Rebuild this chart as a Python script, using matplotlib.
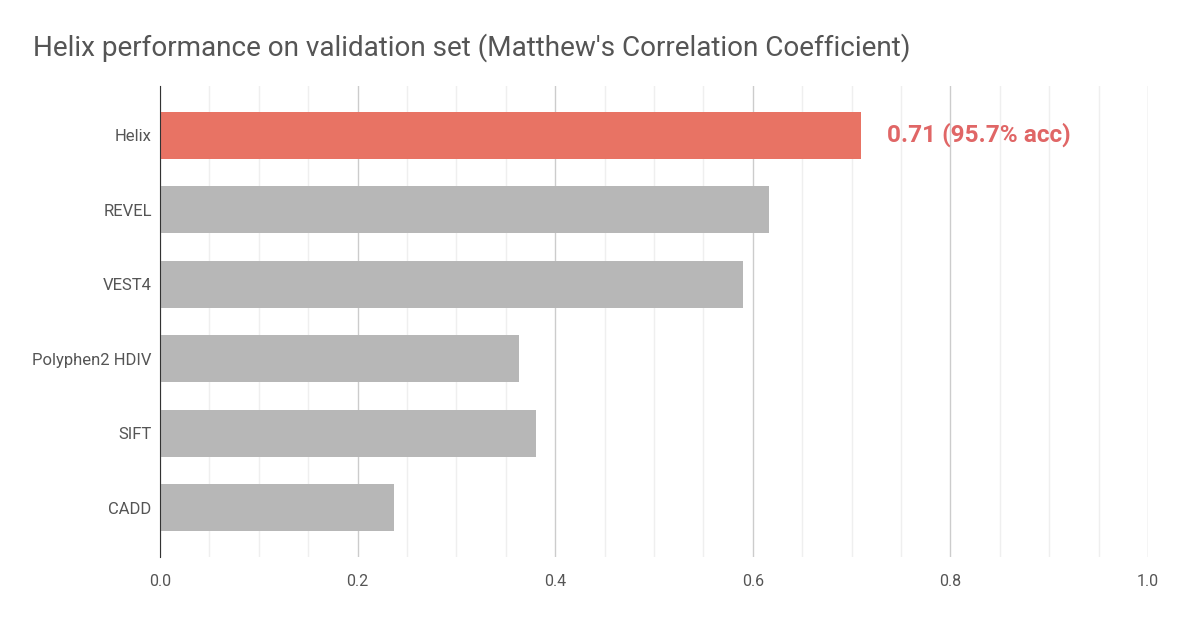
import numpy as np
import matplotlib
matplotlib.use("Agg")
import matplotlib.pyplot as plt
from matplotlib.ticker import MultipleLocator

plt.rcParams['font.family'] = ['Roboto', 'DejaVu Sans']

methods = ["Helix", "REVEL", "VEST4", "Polyphen2 HDIV", "SIFT", "CADD"]
mcc = [0.71, 0.616, 0.59, 0.363, 0.381, 0.237]
bar_colors = ["#e87364", "#b7b7b7", "#b7b7b7", "#b7b7b7", "#b7b7b7", "#b7b7b7"]
label_text = "0.71 (95.7% acc)"

fig = plt.figure(figsize=(11.98, 6.27), dpi=100)
ax = fig.add_axes([160 / 1198, 1 - 557 / 627, 988 / 1198, 471 / 627])

y = np.arange(len(methods))
ax.barh(y, mcc, height=0.63, color=bar_colors, zorder=3)

ax.set_xlim(0, 1.0)
ax.set_ylim(len(methods) - 1 + 0.657, -0.657)
ax.set_yticks(y)
ax.set_yticklabels(methods)
ax.xaxis.set_major_locator(MultipleLocator(0.2))
ax.xaxis.set_minor_locator(MultipleLocator(0.05))
ax.xaxis.set_major_formatter(plt.FuncFormatter(lambda v, p: "%.1f" % v))

ax.grid(axis="x", which="major", color="#cccccc", linewidth=1, zorder=0)
ax.grid(axis="x", which="minor", color="#efefef", linewidth=1, zorder=0)

for s in ["top", "right", "bottom"]:
    ax.spines[s].set_visible(False)
ax.spines["left"].set_color("#333333")
ax.spines["left"].set_zorder(4)

ax.tick_params(axis="both", which="both", length=0, labelcolor="#555555")
ax.tick_params(axis="y", pad=6, labelsize=12)
ax.tick_params(axis="x", pad=12, labelsize=11.5)

ax.text(mcc[0] + 0.026, 0, label_text, color="#e06666", fontsize=17.6,
        fontweight="bold", va="center", ha="left")

fig.text(33 / 1198, 1 - 48 / 627,
         "Helix performance on validation set (Matthew's Correlation Coefficient)",
         fontsize=20.1, color="#555555", va="center", ha="left")

fig.savefig("out.png", dpi=100, facecolor="white")
